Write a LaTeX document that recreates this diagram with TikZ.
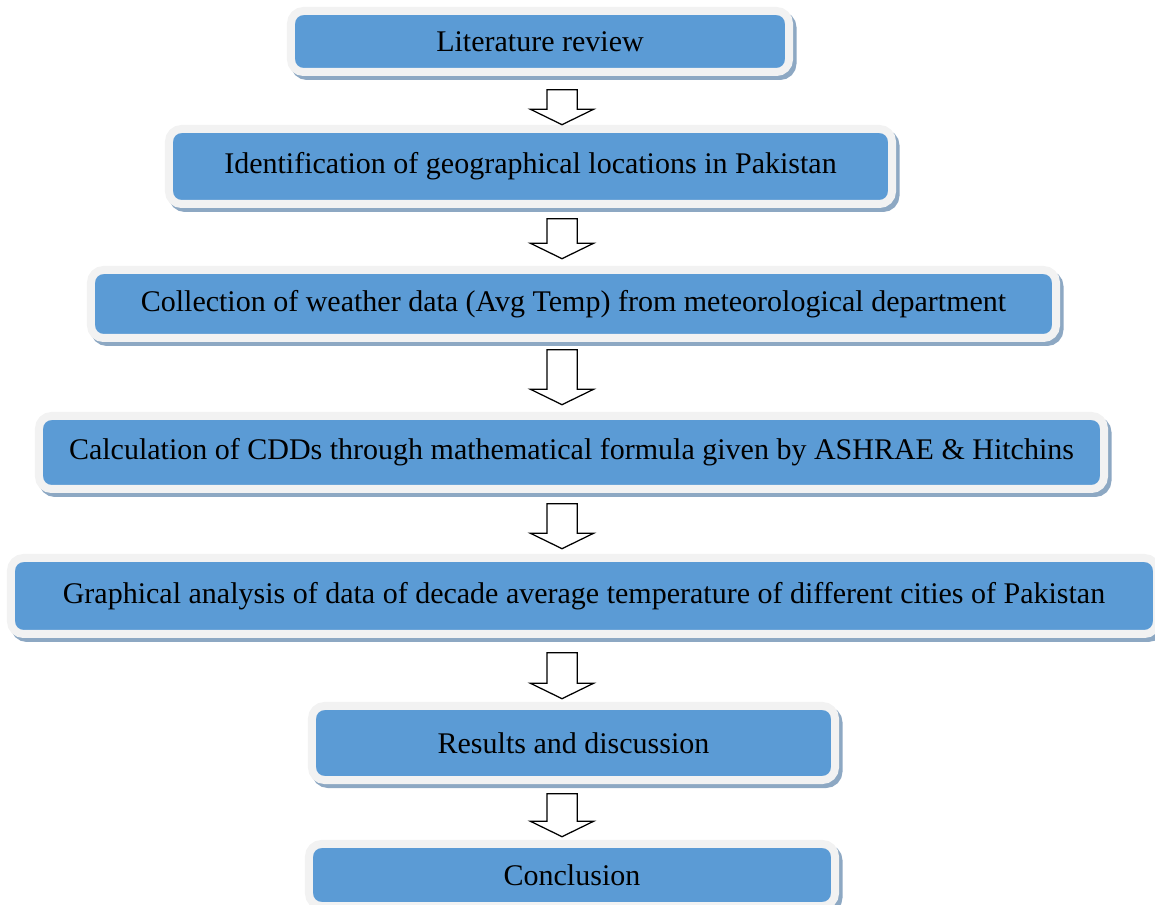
\documentclass[tikz,border=0pt]{standalone}
\usepackage{fontspec}
\setmainfont{Liberation Serif}
\usetikzlibrary{shapes.arrows}
\definecolor{boxblue}{HTML}{5B9BD5}
\definecolor{boxrim}{HTML}{F2F2F2}
\definecolor{boxshade}{HTML}{8DA8C3}
\tikzset{stage/.style = {fill=boxblue, draw=boxrim, line width=3.2pt,
                         rounded corners=5pt, inner sep=0, font=\fontsize{12}{14}\selectfont,
                         preaction={draw=boxshade, fill=boxshade,
                                    transform canvas={shift={(1.4pt,-1.6pt)}}}}}
\tikzset{downarrow/.style = {draw, fill=white, single arrow, rotate=-90,
                             inner xsep=0, inner ysep=5.8pt,
                             single arrow head extend=6.6pt,
                             single arrow tip angle=128, line width=0.5pt}}

\begin{document}
\begin{tikzpicture}[x=0.4pt, y=-0.4pt]
      \useasboundingbox (0, 0) rectangle (1155, 905);
      \node [stage, minimum width=199.2pt, minimum height=24.4pt] (lit) at (540, 41.5) {Literature review};
      \node [stage, minimum width=289.2pt, minimum height=30pt] (ident) at (530.5, 166.5) {Identification of geographical locations in Pakistan};
      \node [stage, minimum width=386pt, minimum height=27.2pt] (collect) at (573.5, 304) {Collection of weather data (Avg Temp) from meteorological department};
      \node [stage, minimum width=426pt, minimum height=29.2pt] (calc) at (571.5, 452.5) {Calculation of CDDs through mathematical formula given by ASHRAE \& Hitchins};
      \node [stage, minimum width=458.4pt, minimum height=30.4pt] (graph) at (584, 596) {Graphical analysis of data of decade average temperature of different cities of Pakistan};
      \node [stage, minimum width=209.2pt, minimum height=29.6pt] (results) at (573.5, 743) {Results and discussion};
      \node [stage, minimum width=210.4pt, minimum height=24.8pt] (concl) at (572, 875) {Conclusion};
      \node [downarrow, minimum height=14pt] (arr1) at (562, 103.5) {};
      \node [downarrow, minimum height=16pt] (arr2) at (562, 235) {};
      \node [downarrow, minimum height=22pt] (arr3) at (562, 373.5) {};
      \node [downarrow, minimum height=18pt] (arr4) at (562, 522.5) {};
      \node [downarrow, minimum height=18.4pt] (arr5) at (562, 672) {};
      \node [downarrow, minimum height=17.2pt] (arr6) at (562, 811.5) {};
    \end{tikzpicture}
\end{document}
